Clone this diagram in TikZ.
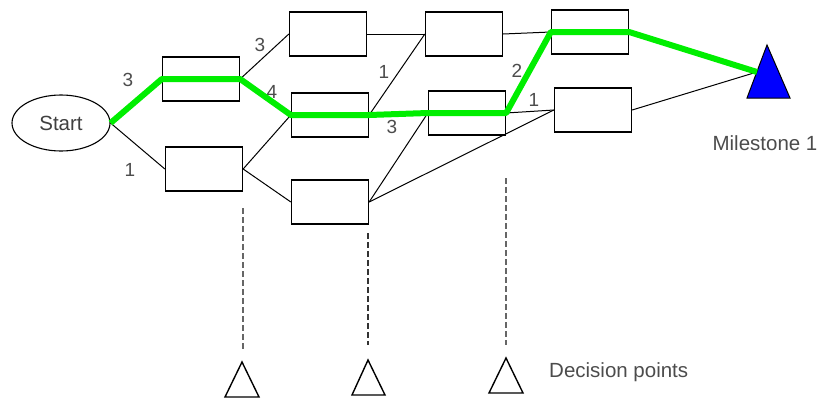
\documentclass[tikz,border=0pt]{standalone}
\usepackage{fontspec}
\setmainfont{Liberation Sans}
\usetikzlibrary{shapes.geometric}
\begin{document}
\begin{tikzpicture}[x=1pt,y=-1pt,
  box/.style={draw=black, line width=1.3pt, fill=white, minimum width=77pt, minimum height=44pt, inner sep=0pt},
  startnode/.style={draw=black, line width=1.1pt, ellipse, minimum width=98pt, minimum height=56pt, inner sep=0pt, font=\fontsize{20.5}{24}\selectfont, text=black!75},
  link/.style={black, line width=1pt},
  crit/.style={draw={rgb,255:red,0;green,238;blue,0}, line width=6pt, line join=round},
  wt/.style={text=black!70, font=\fontsize{19}{22}\selectfont, inner sep=0pt},
  lbl/.style={text=black!70, font=\fontsize{20.5}{24}\selectfont, inner sep=0pt},
  dline/.style={black!60, line width=1.2pt, dash pattern=on 6pt off 3pt},
  dtri/.style={draw=black, line width=1.4pt, line join=miter},
  ]
\useasboundingbox (0,0) rectangle (818,399);
% nodes
\node[startnode] (S) at (61,123) {Start};
\node[box] (A) at (201,79) {};
\node[box] (B) at (204,169) {};
\node[box] (C) at (328,34) {};
\node[box] (D) at (330,115) {};
\node[box] (E) at (330,202) {};
\node[box] (F) at (464,34) {};
\node[box] (G) at (467,113) {};
\node[box] (H) at (590,32) {};
\node[box] (I) at (593,110) {};
% milestone
\draw[fill={rgb,255:red,0;green,0;blue,255}, draw=black, line width=1pt] (767,45) -- (747,98) -- (790,98) -- cycle;
\coordinate (M) at (757,72);
\node[lbl] (ML) at (765,143) {Milestone 1};
% black links
\draw[link] (S.east) -- (B.west);
\draw[link] (A.east) -- (C.west);
\draw[link] (B.east) -- (D.west);
\draw[link] (B.east) -- (E.west);
\draw[link] (C.east) -- (F.west);
\draw[link] (D.east) -- (F.west);
\draw[link] (E.east) -- (G.west);
\draw[link] (E.east) -- (I.west);
\draw[link] (F.east) -- (H.west);
\draw[link] (G.east) -- (I.west);
\draw[link] (I.east) -- (M);
% weights
\node[wt] (w1) at (128,80) {3};
\node[wt] (w2) at (130,170) {1};
\node[wt] (w3) at (260,45) {3};
\node[wt] (w4) at (272,92) {4};
\node[wt] (w5) at (384,72) {1};
\node[wt] (w6) at (392,127) {3};
\node[wt] (w7) at (517,71) {2};
\node[wt] (w8) at (534,100) {1};
% critical path
\draw[crit] (S.east) -- (A.west) -- (A.east) -- (D.west) -- (D.east) -- (G.west) -- (G.east) -- (H.west) -- (H.east) -- (M);
% decision lines
\draw[dline] (243,208) -- (243,350);
\draw[dline, black!80] (368,233) -- (368,345);
\draw[dline] (506,178) -- (506,345);
\draw[dtri] (242,362) -- (225,397) -- (259,397) -- cycle;
\draw[dtri] (368,360) -- (352,395) -- (385,395) -- cycle;
\draw[dtri] (506,358) -- (489,393) -- (523,393) -- cycle;
\node[lbl, anchor=west] (DP) at (549,372) {Decision points};
\end{tikzpicture}
\end{document}
